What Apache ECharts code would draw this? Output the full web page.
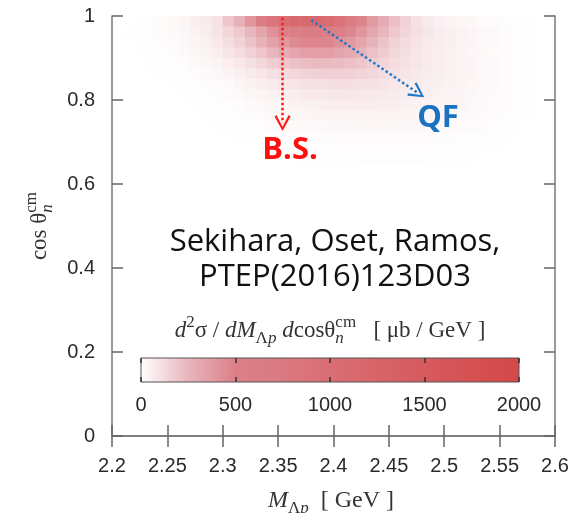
<!DOCTYPE html>
<html>
<head>
<meta charset="utf-8">
<script src="https://cdn.jsdelivr.net/npm/echarts@6/dist/echarts.min.js"></script>
<style>
html, body { margin: 0; padding: 0; background: #fff; }
#chart { width: 577px; height: 513px; }
</style>
</head>
<body>
<div id="chart"></div>
<script>
// lower edge of each M_Λp bin [GeV]
const massBins = [2.20, 2.21, 2.22, 2.23, 2.24, 2.25, 2.26, 2.27, 2.28, 2.29,
  2.30, 2.31, 2.32, 2.33, 2.34, 2.35, 2.36, 2.37, 2.38, 2.39,
  2.40, 2.41, 2.42, 2.43, 2.44, 2.45, 2.46, 2.47, 2.48, 2.49,
  2.50, 2.51, 2.52, 2.53, 2.54, 2.55, 2.56, 2.57, 2.58, 2.59]
// upper edge of each cos bin
const cosBins = [1.000, 0.975, 0.950, 0.925, 0.900, 0.875, 0.850, 0.825, 0.800, 0.775, 0.750, 0.725, 0.700, 0.675]
const binW = 0.01
const binH = 0.025

// d2sigma / dM dcos [ub/GeV], one row per cos bin
const density = [
  [0,0,5,10,15,25,35,50,70,100,200,280,400,600,850,1000,1100,1100,1100,1050,900,650,480,380,300,220,150,100,70,50,40,32,25,18,12,8,5,2,0,0],
  [0,3,6,10,15,22,32,46,66,96,140,190,250,330,420,500,560,600,600,580,530,470,400,320,250,190,145,110,85,66,54,45,36,28,21,14,8,4,0,0],
  [0,0,4,7,12,18,26,38,54,78,115,155,210,275,345,405,455,480,480,470,430,385,325,265,205,155,120,94,74,60,50,42,34,26,19,13,7,4,0,0],
  [0,0,2,5,8,13,19,29,41,58,84,114,150,198,246,294,330,355,360,355,335,305,265,215,175,138,108,86,70,58,48,41,32,25,18,12,7,4,0,0],
  [0,0,0,3,5,9,14,21,30,42,58,78,104,136,170,195,215,228,234,234,228,215,195,170,143,120,99,82,68,57,49,42,34,26,19,13,8,4,1,0],
  [0,0,0,1,3,5,9,14,20,28,39,53,69,88,108,126,140,151,159,162,162,158,149,135,119,103,89,76,65,55,49,42,34,27,20,14,8,4,1,0],
  [0,0,0,0,1,3,5,8,12,18,24,34,45,57,70,82,93,101,107,111,112,111,107,100,92,82,74,66,58,51,45,39,32,26,19,14,8,4,1,0],
  [0,0,0,0,0,1,3,5,8,12,16,22,29,36,46,55,62,69,74,78,81,81,79,75,72,66,61,56,51,46,40,35,30,23,18,13,8,4,1,0],
  [0,0,0,0,0,0,1,3,5,8,10,14,20,25,31,38,44,49,53,57,60,61,61,60,57,55,52,48,44,40,36,33,27,22,17,12,8,4,1,0],
  [0,0,0,0,0,0,0,1,2,4,6,8,12,16,20,25,29,32,36,38,41,42,42,42,41,40,37,35,32,30,28,24,20,17,13,10,6,2,1,0],
  [0,0,0,0,0,0,0,0,1,2,4,5,7,10,12,16,18,22,24,26,28,29,30,30,30,29,28,26,25,23,20,18,16,12,10,6,4,1,0,0],
  [0,0,0,0,0,0,0,0,0,0,1,2,3,4,5,7,9,11,12,14,15,16,17,17,17,17,16,15,14,13,12,10,8,6,4,3,1,0,0,0],
  [0,0,0,0,0,0,0,0,0,0,0,0,1,2,3,4,5,6,7,8,9,10,10,11,11,11,11,10,10,9,8,7,5,4,2,1,0,0,0,0],
  [0,0,0,0,0,0,0,0,0,0,0,0,0,0,1,1,2,3,3,4,5,5,6,6,6,6,6,6,5,5,4,3,2,1,0,0,0,0,0,0]
]

const colorMin = 0
const colorMax = 2000
const colorTickStep = 500
const palette = ['#ffffff', '#e8b6bd', '#dc8088', '#da7980', '#d96e74', '#d76468', '#d65a5e', '#d55152', '#d44848']

// arrows: [M, cos] start and end
const bsArrow = [[2.354, 0.996], [2.354, 0.745]]
const qfArrow = [[2.380, 0.990], [2.476, 0.817]]

const cells = []
density.forEach((row, j) => {
  row.forEach((v, i) => {
    if (v > 0) cells.push([massBins[i], cosBins[j], v])
  })
})

const chart = echarts.init(document.getElementById('chart'))

//lay out formula pieces, stacked sub/sup supported
const ctx = document.createElement('canvas').getContext('2d')
const mathPieces = function (parts, size, color) {
  const kids = []
  let x = 0
  parts.forEach(p => {
    const items = p.over ? [[p.t, 'sub', p.i], [p.over, 'sup', 0]] : [[p.t, p.s, p.i]]
    let adv = 0
    items.forEach(([t, s, it]) => {
      const fs = s ? Math.round(size * 0.72) : size
      const font = (it ? 'italic ' : '') + fs + 'px "Liberation Serif"'
      ctx.font = font
      adv = Math.max(adv, ctx.measureText(t).width)
      kids.push({
        type: 'text',
        x: x,
        y: s == 'sub' ? size * 0.32 : s == 'sup' ? -size * 0.36 : 0,
        style: {text: t, font: font, fill: color, align: 'left', verticalAlign: 'middle'}
      })
    })
    x += adv
  })
  kids.forEach(k => { k.x -= x / 2 })
  return kids
}

const arrowHead = 'path://M5,0 L10,9 L8.8,9.8 L5,2.6 L1.2,9.8 L0,9 Z'

const renderCell = function (params, api) {
  const a = api.coord([api.value(0), api.value(1)])
  const b = api.coord([api.value(0) + binW, api.value(1) - binH])
  return {
    type: 'rect',
    shape: {x: a[0], y: a[1], width: b[0] - a[0] + 0.6, height: b[1] - a[1] + 0.6},
    style: {fill: api.visual('color')}
  }
}

const axisGray = '#7a7a7a'
const labelFont = {fontFamily: '"Liberation Sans", Arial', fontSize: 20, color: '#2a2a2a'}

chart.setOption({
  animation: false,
  grid: [
    {left: 112, right: 22, top: 16, bottom: 77},
    {left: 141, right: 58, top: 358, height: 24, show: true,
      backgroundColor: new echarts.graphic.LinearGradient(0, 0, 1, 0,
        palette.map((c, k) => ({offset: k / (palette.length - 1), color: c}))),
      borderColor: '#555', borderWidth: 1}
  ],
  visualMap: {
    type: 'continuous', show: false, min: colorMin, max: colorMax,
    dimension: 2, seriesIndex: 0, inRange: {color: palette}
  },
  xAxis: [
    {type: 'value', gridIndex: 0, min: 2.2, max: 2.6, interval: 0.05, z: 10,
      axisLine: {lineStyle: {color: axisGray, width: 1.5}},
      axisTick: {inside: true, length: 11, lineStyle: {color: '#666', width: 1.5}},
      axisLabel: {...labelFont, margin: 20},
      splitLine: {show: false}},
    {type: 'value', gridIndex: 0, position: 'top', min: 2.2, max: 2.6, interval: 0.05, z: 10,
      axisLine: {lineStyle: {color: axisGray, width: 1.5}},
      axisTick: {inside: true, length: 11, lineStyle: {color: '#666', width: 1.5}},
      axisLabel: {show: false}, splitLine: {show: false}},
    {type: 'value', gridIndex: 1, min: colorMin, max: colorMax, interval: colorTickStep, z: 10,
      axisLine: {show: false},
      axisTick: {inside: true, length: 5, lineStyle: {color: '#333', width: 1.5}},
      axisLabel: {...labelFont, margin: 13, formatter: v => String(v)},
      splitLine: {show: false}},
    {type: 'value', gridIndex: 1, position: 'top', min: colorMin, max: colorMax, interval: colorTickStep, z: 10,
      axisLine: {show: false},
      axisTick: {inside: true, length: 5, lineStyle: {color: '#333', width: 1.5}},
      axisLabel: {show: false}, splitLine: {show: false}}
  ],
  yAxis: [
    {type: 'value', gridIndex: 0, min: 0, max: 1, interval: 0.2, z: 10,
      axisLine: {show: true, lineStyle: {color: axisGray, width: 1.5}},
      axisTick: {show: true, inside: true, length: 11, lineStyle: {color: '#666', width: 1.5}},
      axisLabel: {...labelFont, margin: 17},
      splitLine: {show: false}},
    {type: 'value', gridIndex: 0, position: 'right', min: 0, max: 1, interval: 0.2, z: 10,
      axisLine: {show: true, lineStyle: {color: axisGray, width: 1.5}},
      axisTick: {show: true, inside: true, length: 11, lineStyle: {color: '#666', width: 1.5}},
      axisLabel: {show: false}, splitLine: {show: false}},
    {type: 'value', gridIndex: 1, min: 0, max: 1, show: false}
  ],
  series: [
    {
      type: 'custom',
      coordinateSystem: 'cartesian2d',
      xAxisIndex: 0, yAxisIndex: 0,
      renderItem: renderCell,
      encode: {x: 0, y: 1},
      data: cells,
      z: 2
    },
    {
      type: 'lines',
      coordinateSystem: 'cartesian2d',
      xAxisIndex: 0, yAxisIndex: 0,
      symbol: ['none', arrowHead],
      symbolSize: [18, 16],
      z: 5,
      data: [
        {coords: bsArrow, lineStyle: {color: '#ff1a1a', width: 2.5, type: 'dotted', opacity: 1}},
        {coords: qfArrow, lineStyle: {color: '#1f78c8', width: 2.5, type: 'dotted', opacity: 1}}
      ]
    }
  ],
  graphic: [
    {type: 'text', x: 290, y: 150, z: 20,
      style: {text: 'B.S.', fontSize: 31, fontWeight: 'bold', fontFamily: 'Open Sans', fill: '#ff1010',
        align: 'center', verticalAlign: 'middle'}},
    {type: 'text', x: 438, y: 118, z: 20,
      style: {text: 'QF', fontSize: 31, fontWeight: 'bold', fontFamily: 'Open Sans', fill: '#1a72c0',
        align: 'center', verticalAlign: 'middle'}},
    {type: 'text', x: 335, y: 260, z: 20,
      style: {text: 'Sekihara, Oset, Ramos,\nPTEP(2016)123D03', fontSize: 31, fontFamily: 'Open Sans', lineHeight: 35,
        fill: '#111', align: 'center', verticalAlign: 'middle'}},
    {type: 'group', x: 330, y: 331, children: mathPieces([
      {t: 'd', i: 1}, {t: '2', s: 'sup'}, {t: 'σ / '}, {t: 'dM', i: 1}, {t: 'Λ', s: 'sub'}, {t: 'p', s: 'sub', i: 1},
      {t: ' d', i: 1}, {t: 'cosθ'}, {t: 'n', i: 1, over: 'cm'}, {t: '   [ μb / GeV ]'}
    ], 23, '#333')},
    {type: 'group', x: 331, y: 501, children: mathPieces([
      {t: 'M', i: 1}, {t: 'Λ', s: 'sub'}, {t: 'p', s: 'sub', i: 1}, {t: '  [ GeV ]'}
    ], 24, '#333')},
    {type: 'group', x: 40, y: 226, rotation: Math.PI / 2, children: mathPieces([
      {t: 'cos θ'}, {t: 'n', i: 1, over: 'cm'}
    ], 23, '#333')}
  ]
})
</script>
</body>
</html>
